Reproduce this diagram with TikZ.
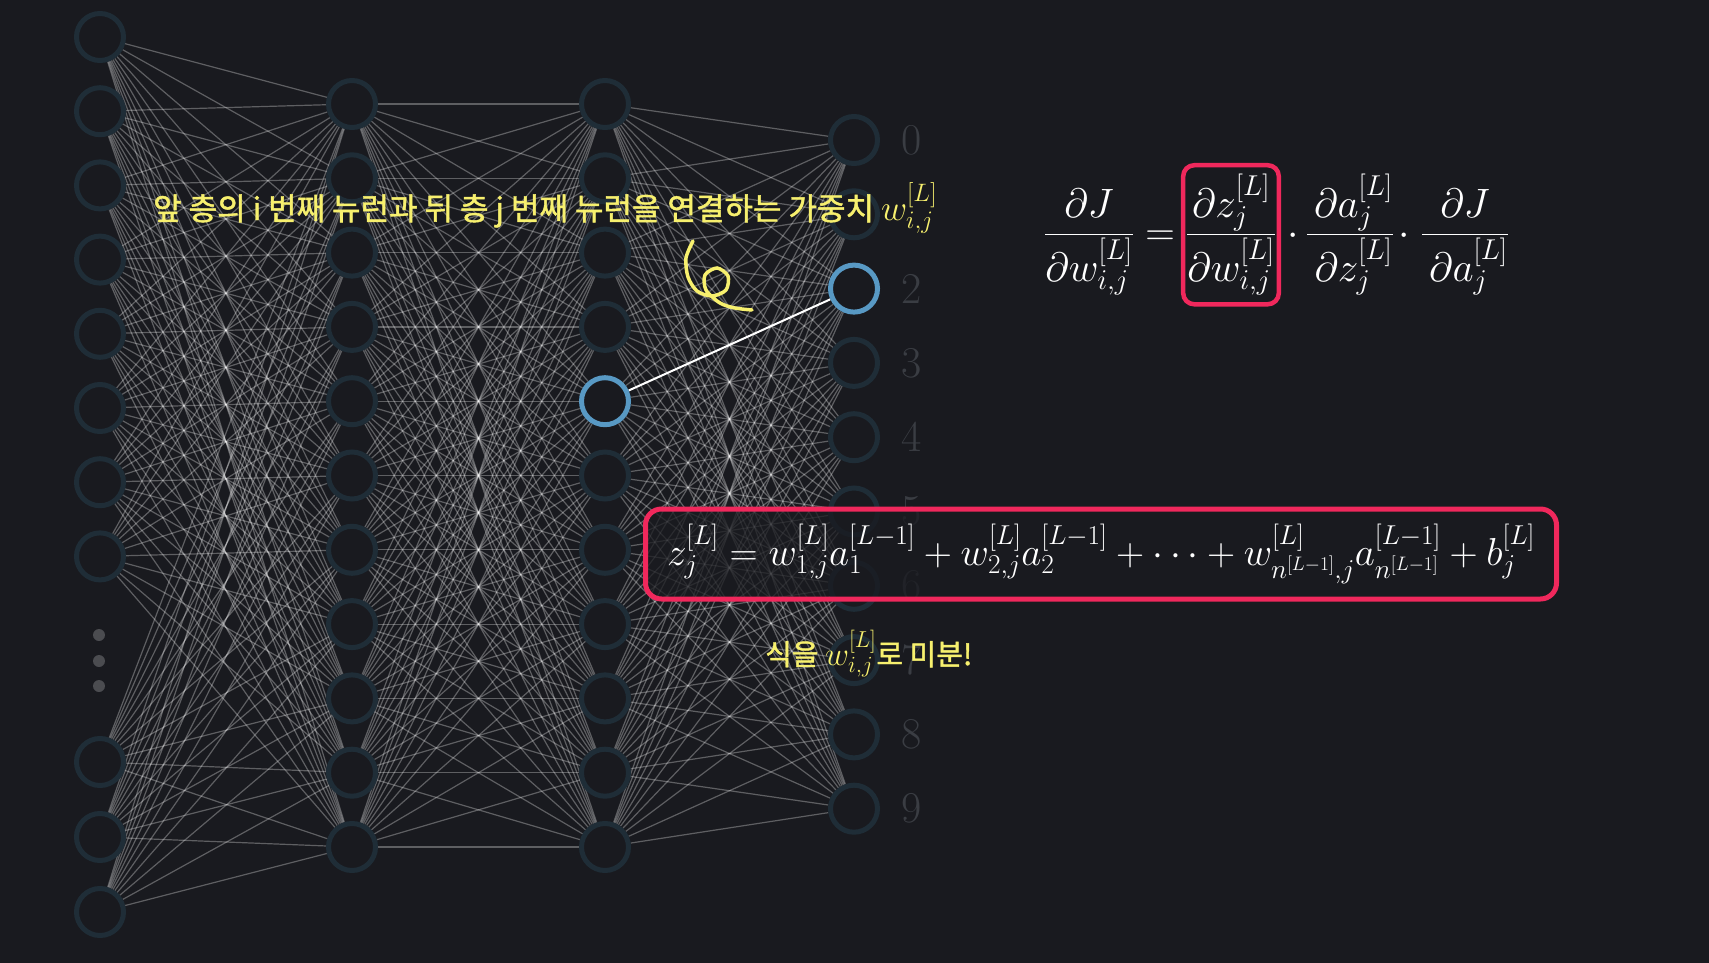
\RequirePackage{fix-cm}
\documentclass[tikz,border=0pt]{standalone}
\usepackage{amsmath}
\usepackage{fontspec}
\newfontfamily\kor[FakeBold=1.5]{Noto Sans CJK KR}
\usetikzlibrary{positioning}

\definecolor{bgdark}{RGB}{25,26,31}
\definecolor{ringdark}{RGB}{31,45,55}
\definecolor{ringblue}{RGB}{88,153,196}
\definecolor{hotpink}{RGB}{240,40,92}
\definecolor{marker}{RGB}{247,240,110}
\definecolor{digitgray}{RGB}{58,61,67}

\pgfdeclarelayer{back}
\pgfdeclarelayer{wires}
\pgfsetlayers{back,wires,main}

\begin{document}
\begin{tikzpicture}[x=1pt,y=-1pt]
  \tikzset{neuron/.style={draw=#1,circle,line width=5pt,fill=bgdark,minimum size=47pt,inner sep=0pt},
           neuron/.default=ringdark,
           wire/.style={draw=white,opacity=0.3,line width=1.2pt},
           digit/.style={text=digitgray,inner sep=0pt,font=\fontsize{44}{44}\selectfont},
           eq/.style={text=white,inner sep=0pt,anchor=base,font=\fontsize{41}{48}\selectfont},
           note/.style={text=marker,inner sep=0pt,anchor=base west}}

  \begin{pgfonlayer}{back}
    \fill[bgdark] (0,0) rectangle (1709,963);
  \end{pgfonlayer}

  % input layer
  \foreach \k in {0,...,7}
    \node[neuron] (in\k) at (100,37+74.2*\k) {};
  \foreach \k/\y in {8/762,9/837,10/912}
    \node[neuron] (in\k) at (100,\y) {};
  \foreach \y in {635,661,686}
    \fill[white!22!bgdark] (99,\y) circle (6pt);

  % hidden layers
  \foreach \k in {0,...,10} {
    \ifnum\k=4 \def\ring{ringblue}\else\def\ring{ringdark}\fi
    \node[neuron] (h\k) at (352,104+74.3*\k) {};
    \node[neuron=\ring] (g\k) at (605,104+74.3*\k) {};
  }

  % output layer (label 1 sits under the note)
  \foreach \k in {0,...,9} {
    \ifnum\k=2 \def\ring{ringblue}\else\def\ring{ringdark}\fi
    \node[neuron=\ring] (o\k) at (854,140+74.3*\k) {};
  }
  \foreach \k in {0,2,3,4,5,6,7,8,9}
    \node[digit] (d\k) at (912,140+74.3*\k) {\k};

  \begin{pgfonlayer}{wires}
    \foreach \i in {0,...,10}
      \foreach \j in {0,...,10} {
        \draw[wire] (in\i) -- (h\j);
        \draw[wire] (h\i) -- (g\j);
      }
    \foreach \i in {0,...,10}
      \foreach \j in {0,...,9}
        \draw[wire] (g\i) -- (o\j);
    \draw[white,line width=2pt] (g4) -- (o2);
  \end{pgfonlayer}

  % annotations
  \node[note,font=\kor\fontsize{31}{36}\selectfont] (weightnote) at (153,220)
    {앞 층의 i 번째 뉴런과 뒤 층 j 번째 뉴런을 연결하는 가중치 {\fontsize{36}{36}\selectfont$w^{[L]}_{i,j}$}};
  \draw[marker,line width=3.5pt,line cap=round] plot[smooth] coordinates
    {(693,241) (686,258) (688,277) (697,291) (712,296) (726,290) (728,276) (717,268) (705,275) (706,290) (720,303) (735,308) (752,310)};
  \node[note,font=\kor\fontsize{29}{34}\selectfont] (diffnote) at (765,665)
    {식을 {\fontsize{33}{33}\selectfont$w^{[L]}_{i,j}$}로 미분!};

  % chain rule
  \node[eq] (lhs) at (1089,245) {$\dfrac{\partial J}{\partial w^{[L]}_{i,j}}$};
  \node[eq] (eqsign) at (1160,245) {$=$};
  \node[eq,draw=hotpink,line width=4.5pt,rounded corners=11pt,inner xsep=3pt,inner ysep=9pt] (dzdw) at (1231,245)
    {$\dfrac{\partial z^{[L]}_j}{\partial w^{[L]}_{i,j}}$};
  \node[eq] (dotA) at (1293,245) {$\cdot$};
  \node[eq] (dadz) at (1350,245) {$\dfrac{\,\partial a^{[L]}_j}{\,\partial z^{[L]}_j}$};
  \node[eq] (dotB) at (1404,245) {$\cdot$};
  \node[eq] (dJda) at (1465,245) {$\dfrac{\partial J}{\,\partial a^{[L]}_j}$};

  \node[eq,anchor=center,font=\fontsize{39}{46}\selectfont,draw=hotpink,line width=5pt,rounded corners=16pt,
        fill=bgdark,fill opacity=0.75,text opacity=1,minimum width=911pt,minimum height=90pt] (zsum) at (1101,554)
    {$z^{[L]}_j = w^{[L]}_{1,j}a^{[L-1]}_1 + w^{[L]}_{2,j}a^{[L-1]}_2 + \cdots + w^{[L]}_{n^{[L-1]},j}a^{[L-1]}_{n^{[L-1]}} + b^{[L]}_j$};
\end{tikzpicture}
\end{document}
